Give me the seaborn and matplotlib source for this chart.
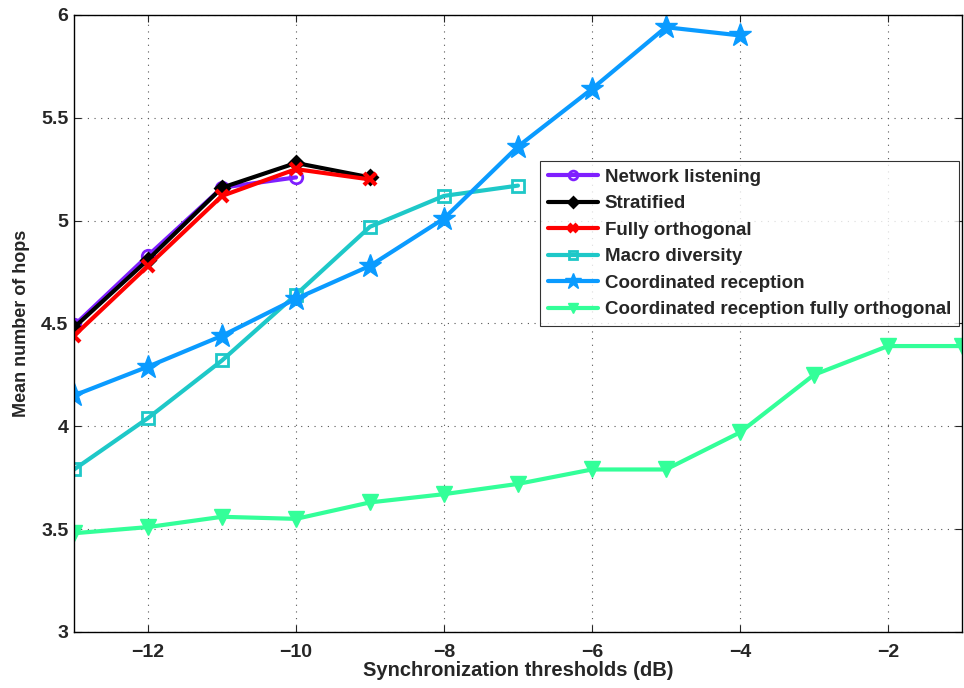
import numpy as np
import pandas as pd
import matplotlib
matplotlib.use("Agg")
import matplotlib.pyplot as plt
import seaborn as sns

sns.set_style("ticks")
plt.rcParams['font.family'] = ['Liberation Sans', 'DejaVu Sans']
plt.rcParams['font.weight'] = 'bold'

series_names = ["Network listening", "Stratified", "Fully orthogonal",
                "Macro diversity", "Coordinated reception",
                "Coordinated reception fully orthogonal"]

x_nl = [-13, -12, -11, -10]
y_nl = [4.49, 4.83, 5.16, 5.21]
x_st = [-13, -12, -11, -10, -9]
y_st = [4.48, 4.81, 5.16, 5.28, 5.21]
x_fo = [-13, -12, -11, -10, -9]
y_fo = [4.44, 4.78, 5.12, 5.25, 5.20]
x_md = [-13, -12, -11, -10, -9, -8, -7]
y_md = [3.79, 4.04, 4.32, 4.64, 4.97, 5.12, 5.17]
x_cr = [-13, -12, -11, -10, -9, -8, -7, -6, -5, -4]
y_cr = [4.15, 4.29, 4.44, 4.62, 4.78, 5.01, 5.36, 5.64, 5.94, 5.90]
x_crfo = [-13, -12, -11, -10, -9, -8, -7, -6, -5, -4, -3, -2, -1]
y_crfo = [3.48, 3.51, 3.56, 3.55, 3.63, 3.67, 3.72, 3.79, 3.79, 3.97, 4.25, 4.39, 4.39]

xs = [x_nl, x_st, x_fo, x_md, x_cr, x_crfo]
ys = [y_nl, y_st, y_fo, y_md, y_cr, y_crfo]

colors = ["#7f1fff", "#000000", "#ff0000", "#1ec8c8", "#0a9bff", "#33ff99"]
markers = ["o", "D", "x", "s", "*", "v"]
msizes = [9, 7, 9, 8, 17, 11]
mews = [2, 2, 3, 2, 1, 1]
mfc = ["none", None, None, "none", None, None]

xticks = [-12, -10, -8, -6, -4, -2]
yticks = [3, 3.5, 4, 4.5, 5, 5.5, 6]

fig = plt.figure(figsize=(9.64, 6.88), dpi=100)
ax = fig.add_axes([0.0768, 0.0814, 0.921, 0.897])

for name, x, y, c, m, ms, mw, fc in zip(series_names, xs, ys, colors, markers, msizes, mews, mfc):
    df = pd.DataFrame({"x": x, "y": y})
    kw = dict(marker=m, markersize=ms, markeredgecolor=c, markeredgewidth=mw)
    if fc is not None:
        kw["markerfacecolor"] = fc
    sns.lineplot(data=df, x="x", y="y", ax=ax, color=c, linewidth=3,
                 label=name, **kw)

ax.set_xlim(-13, -1)
ax.set_ylim(3, 6)
ax.set_xticks(xticks)
ax.set_xticklabels([f"\u2212{abs(t)}" for t in xticks])
ax.set_yticks(yticks)
ax.set_yticklabels(["3", "3.5", "4", "4.5", "5", "5.5", "6"])
ax.tick_params(direction="in", length=5, labelsize=14, top=True, right=True)
ax.tick_params(axis="x", pad=9)
ax.tick_params(axis="y", pad=4)
for lab in ax.get_xticklabels() + ax.get_yticklabels():
    lab.set_fontweight("bold")
ax.grid(True, linestyle=(0, (1, 5)), color="#555555", linewidth=0.8)
for s in ax.spines.values():
    s.set_visible(True)
    s.set_linewidth(1.0)
    s.set_color("black")

ax.set_xlabel("Synchronization thresholds (dB)", fontsize=14.5, fontweight="bold", labelpad=0)
ax.set_ylabel("Mean number of hops", fontsize=13, fontweight="bold", labelpad=8)

leg = ax.legend(loc="upper right", bbox_to_anchor=(0.9965, 0.763), fontsize=13.5,
                frameon=True, fancybox=False, edgecolor="black", handlelength=2.7,
                handletextpad=0.35, borderpad=0.4, labelspacing=0.5, borderaxespad=0,
                markerscale=0.7)
leg.get_frame().set_linewidth(0.8)
for t in leg.get_texts():
    t.set_fontweight("bold")

fig.savefig("out.png", dpi=100)
